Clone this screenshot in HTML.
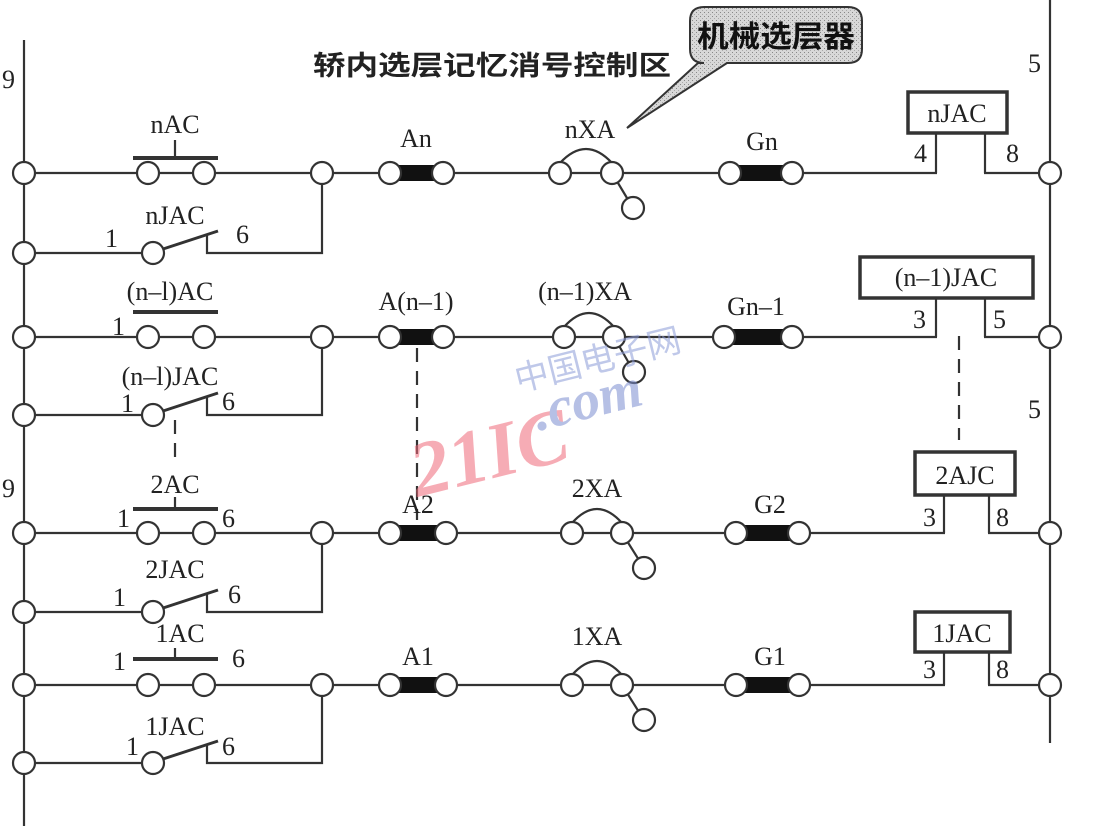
<!DOCTYPE html>
<html><head><meta charset="utf-8"><style>
html,body{margin:0;padding:0;background:#fff;}
svg{display:block;}
text{font-family:"Liberation Serif",serif;fill:#222;}
.cj{font-family:"Liberation Sans","Noto Sans CJK SC",sans-serif;font-weight:bold;}
</style></head><body>
<svg width="1093" height="826" viewBox="0 0 1093 826" xmlns="http://www.w3.org/2000/svg">
<defs>
<pattern id="dots" width="4" height="4" patternUnits="userSpaceOnUse">
<rect width="4" height="4" fill="#d8d8d8"/><rect x="0" y="0" width="1" height="1" fill="#888"/><rect x="2" y="2" width="1" height="1" fill="#aaa"/>
</pattern>
</defs>
<g stroke="#333" stroke-width="2.2" fill="none">
<line x1="24" y1="40" x2="24" y2="826"/>
<line x1="1050" y1="0" x2="1050" y2="743"/>
<line x1="24" y1="173" x2="1050" y2="173"/><line x1="24" y1="337" x2="1050" y2="337"/>
<line x1="24" y1="533" x2="1050" y2="533"/><line x1="24" y1="685" x2="1050" y2="685"/>
<polyline points="24,253 153,253"/><polyline points="207,235 207,253 322,253 322,173"/>
<polyline points="24,415 153,415"/><polyline points="207,397 207,415 322,415 322,337"/>
<polyline points="24,612 153,612"/><polyline points="207,594 207,612 322,612 322,533"/>
<polyline points="24,763 153,763"/><polyline points="207,745 207,763 322,763 322,685"/>
<g stroke-width="3"><line x1="160" y1="250" x2="218" y2="231"/><line x1="160" y1="412" x2="218" y2="393"/>
<line x1="160" y1="609" x2="218" y2="590"/><line x1="160" y1="760" x2="218" y2="741"/></g>
<g stroke-width="4"><line x1="133" y1="158" x2="218" y2="158"/><line x1="133" y1="312" x2="218" y2="312"/>
<line x1="133" y1="509" x2="218" y2="509"/><line x1="133" y1="659" x2="218" y2="659"/></g>
<line x1="175" y1="158" x2="175" y2="140"/><line x1="175" y1="509" x2="175" y2="497"/><line x1="175" y1="659" x2="175" y2="648"/>
<g>
<path d="M560,163 Q586,135 612,163"/><line x1="612" y1="173" x2="633" y2="208"/>
<path d="M564,327 Q589,299 614,327"/><line x1="614" y1="337" x2="634" y2="372"/>
<path d="M572,523 Q597,495 622,523"/><line x1="622" y1="533" x2="644" y2="568"/>
<path d="M572,675 Q597,647 622,675"/><line x1="622" y1="685" x2="644" y2="720"/>
</g>
</g>
<g fill="#fff"><rect x="937" y="160" width="47" height="16"/><rect x="937" y="324" width="47" height="16"/>
<rect x="945" y="520" width="43" height="16"/><rect x="945" y="672" width="43" height="16"/></g>
<g stroke="#333" stroke-width="2.2" fill="none">
<polyline points="936,173 936,133"/><polyline points="985,133 985,173"/>
<polyline points="936,337 936,298"/><polyline points="985,298 985,337"/>
<polyline points="944,533 944,495"/><polyline points="989,495 989,533"/>
<polyline points="944,685 944,652"/><polyline points="989,652 989,685"/>
<g stroke-width="3.5" fill="#fff">
<rect x="908" y="92" width="99" height="41"/><rect x="860" y="257" width="173" height="41"/>
<rect x="915" y="452" width="100" height="43"/><rect x="915" y="612" width="95" height="40"/></g>
<g stroke-dasharray="14,9"><line x1="175" y1="420" x2="175" y2="462"/><line x1="417" y1="348" x2="417" y2="520"/><line x1="959" y1="336" x2="959" y2="440"/></g>
<g stroke="none" fill="#111">
<rect x="396" y="165" width="42" height="16"/><rect x="396" y="329" width="42" height="16"/>
<rect x="396" y="525" width="42" height="16"/><rect x="396" y="677" width="42" height="16"/>
<rect x="735" y="165" width="52" height="16"/><rect x="729" y="329" width="58" height="16"/>
<rect x="740" y="525" width="54" height="16"/><rect x="740" y="677" width="54" height="16"/></g>
<g fill="#fff">
<circle cx="24" cy="173" r="11"/><circle cx="24" cy="253" r="11"/><circle cx="24" cy="337" r="11"/><circle cx="24" cy="415" r="11"/>
<circle cx="24" cy="533" r="11"/><circle cx="24" cy="612" r="11"/><circle cx="24" cy="685" r="11"/><circle cx="24" cy="763" r="11"/>
<circle cx="1050" cy="173" r="11"/><circle cx="1050" cy="337" r="11"/><circle cx="1050" cy="533" r="11"/><circle cx="1050" cy="685" r="11"/>
<circle cx="153" cy="253" r="11"/><circle cx="153" cy="415" r="11"/><circle cx="153" cy="612" r="11"/><circle cx="153" cy="763" r="11"/>
<circle cx="148" cy="173" r="11"/><circle cx="204" cy="173" r="11"/><circle cx="148" cy="337" r="11"/><circle cx="204" cy="337" r="11"/>
<circle cx="148" cy="533" r="11"/><circle cx="204" cy="533" r="11"/><circle cx="148" cy="685" r="11"/><circle cx="204" cy="685" r="11"/>
<circle cx="322" cy="173" r="11"/><circle cx="322" cy="337" r="11"/><circle cx="322" cy="533" r="11"/><circle cx="322" cy="685" r="11"/>
<circle cx="390" cy="173" r="11"/><circle cx="443" cy="173" r="11"/><circle cx="390" cy="337" r="11"/><circle cx="443" cy="337" r="11"/>
<circle cx="390" cy="533" r="11"/><circle cx="446" cy="533" r="11"/><circle cx="390" cy="685" r="11"/><circle cx="446" cy="685" r="11"/>
<circle cx="560" cy="173" r="11"/><circle cx="612" cy="173" r="11"/><circle cx="633" cy="208" r="11"/>
<circle cx="564" cy="337" r="11"/><circle cx="614" cy="337" r="11"/><circle cx="634" cy="372" r="11"/>
<circle cx="572" cy="533" r="11"/><circle cx="622" cy="533" r="11"/><circle cx="644" cy="568" r="11"/>
<circle cx="572" cy="685" r="11"/><circle cx="622" cy="685" r="11"/><circle cx="644" cy="720" r="11"/>
<circle cx="730" cy="173" r="11"/><circle cx="792" cy="173" r="11"/><circle cx="724" cy="337" r="11"/><circle cx="792" cy="337" r="11"/>
<circle cx="736" cy="533" r="11"/><circle cx="799" cy="533" r="11"/><circle cx="736" cy="685" r="11"/><circle cx="799" cy="685" r="11"/>
</g>
</g>
<path d="M704,7 H848 Q862,7 862,21 V49 Q862,63 848,63 H727 L627,128 L698,63 H704 Q690,63 690,49 V21 Q690,7 704,7 Z" fill="url(#dots)" stroke="#333" stroke-width="2"/>
<text x="697" y="47" class="cj" font-size="30" textLength="158" lengthAdjust="spacingAndGlyphs" style="fill:#111">机械选层器</text>
<text x="313" y="75" class="cj" font-size="27" textLength="358" lengthAdjust="spacingAndGlyphs" style="fill:#222">轿内选层记忆消号控制区</text>
<g opacity="0.55" transform="rotate(-14 520 420)">
<text x="402" y="470" font-family="Liberation Sans,sans-serif" font-weight="bold" font-style="italic" font-size="78" style="fill:#f06a7a">21IC</text>
<text x="535" y="435" font-family="Liberation Sans,sans-serif" font-weight="bold" font-style="italic" font-size="56" style="fill:#7c8ed0">.com</text>
<text x="525" y="392" font-family="'Noto Sans CJK SC',sans-serif" font-size="34" style="fill:#8c9cd8">中国电子网</text>
</g>
<g font-size="26">
<text x="2" y="88">9</text><text x="2" y="497">9</text>
<text x="1028" y="72">5</text><text x="1028" y="418">5</text>
<text x="175" y="133" text-anchor="middle">nAC</text>
<text x="175" y="224" text-anchor="middle">nJAC</text>
<text x="170" y="300" text-anchor="middle">(n–l)AC</text>
<text x="170" y="385" text-anchor="middle">(n–l)JAC</text>
<text x="175" y="493" text-anchor="middle">2AC</text>
<text x="175" y="578" text-anchor="middle">2JAC</text>
<text x="180" y="642" text-anchor="middle">1AC</text>
<text x="175" y="735" text-anchor="middle">1JAC</text>
<text x="105" y="247">1</text><text x="236" y="243">6</text>
<text x="112" y="335">1</text>
<text x="121" y="412">1</text><text x="222" y="410">6</text>
<text x="117" y="527">1</text><text x="222" y="527">6</text>
<text x="113" y="606">1</text><text x="228" y="603">6</text>
<text x="113" y="670">1</text><text x="232" y="667">6</text>
<text x="126" y="755">1</text><text x="222" y="755">6</text>
<text x="416" y="147" text-anchor="middle">An</text>
<text x="416" y="310" text-anchor="middle">A(n–1)</text>
<text x="418" y="513" text-anchor="middle">A2</text>
<text x="418" y="665" text-anchor="middle">A1</text>
<text x="590" y="138" text-anchor="middle">nXA</text>
<text x="585" y="300" text-anchor="middle">(n–1)XA</text>
<text x="597" y="497" text-anchor="middle">2XA</text>
<text x="597" y="645" text-anchor="middle">1XA</text>
<text x="762" y="150" text-anchor="middle">Gn</text>
<text x="756" y="315" text-anchor="middle">Gn–1</text>
<text x="770" y="513" text-anchor="middle">G2</text>
<text x="770" y="665" text-anchor="middle">G1</text>
<text x="957" y="122" text-anchor="middle">nJAC</text>
<text x="946" y="286" text-anchor="middle">(n–1)JAC</text>
<text x="965" y="484" text-anchor="middle">2AJC</text>
<text x="962" y="642" text-anchor="middle">1JAC</text>
<text x="914" y="162">4</text><text x="1006" y="162">8</text>
<text x="913" y="328">3</text><text x="993" y="328">5</text>
<text x="923" y="526">3</text><text x="996" y="526">8</text>
<text x="923" y="678">3</text><text x="996" y="678">8</text>
</g>
</svg>
</body></html>
